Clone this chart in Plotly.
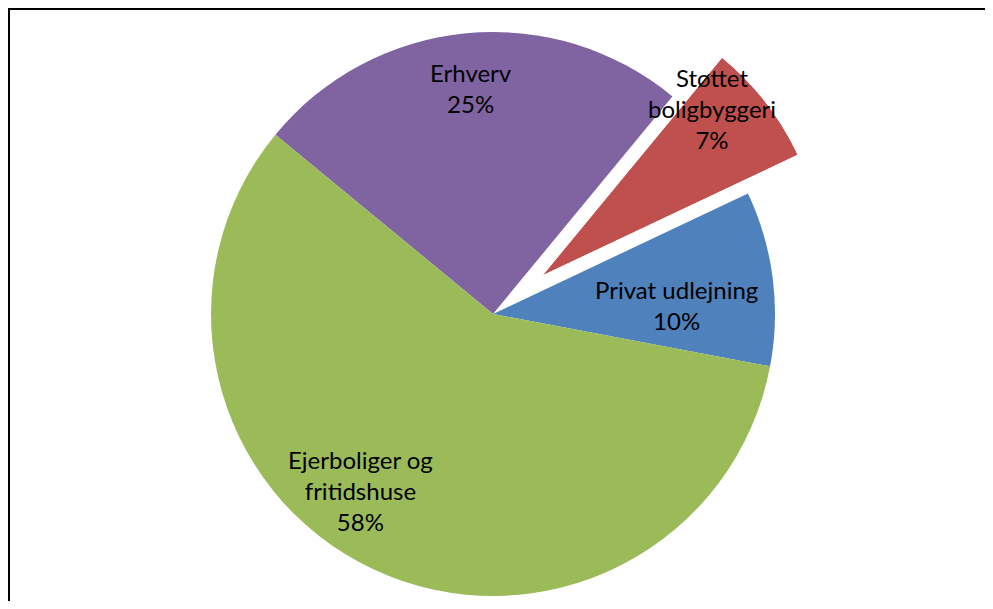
import math
import plotly.graph_objects as go

# slice data, in drawing order (clockwise from the top of "Erhverv")
labels = ["Erhverv", "Støttet boligbyggeri", "Privat udlejning", "Ejerboliger og fritidshuse"]
values = [25, 7, 10, 58]
colors = ["#8064A2", "#C0504D", "#4F81BD", "#9BBB59"]
label_text = ["Erhverv<br>25%", "Støttet<br>boligbyggeri<br>7%", "Privat udlejning<br>10%",
              "Ejerboliger og<br>fritidshuse<br>58%"]
pulled = "Støttet boligbyggeri"

W, H = 993, 609
BODY = 8                      # default page margin around the plot div
FW, FH = W - 2 * BODY, H - 2 * BODY
cx, cy, R = 493, 314, 282     # pie centre and radius (page px)
start_angle = 140.5           # math angle where the first slice starts
pull_px = 63                  # how far the exploded slice is moved out
label_pos = [(471, 88), (712, 108), (676, 305), (360, 490)]


def px(x):
    return (x - BODY) / FW


def py(y):
    return 1 - (y - BODY) / FH


fig = go.Figure()

# main pie, exploded slice left transparent (it is drawn on its own below)
pie_colors = ["rgba(0,0,0,0)" if lab == pulled else c for lab, c in zip(labels, colors)]
fig.add_trace(go.Pie(
    labels=labels,
    values=values,
    sort=False,
    direction="clockwise",
    rotation=90 - start_angle,
    marker=dict(colors=pie_colors, line=dict(width=0)),
    textinfo="none",
    hoverinfo="label+percent",
    showlegend=False,
    domain=dict(x=[px(cx - R), px(cx + R)], y=[py(cy + R), py(cy - R)]),
))

# angles of the exploded slice
total = sum(values)
i = labels.index(pulled)
a_hi = start_angle - 360 * sum(values[:i]) / total
a_lo = a_hi - 360 * values[i] / total
a_mid = (a_hi + a_lo) / 2
ax = cx + pull_px * math.cos(math.radians(a_mid))
ay = cy - pull_px * math.sin(math.radians(a_mid))

fig.add_trace(go.Barpolar(
    r=[1],
    theta=[a_mid],
    width=[a_hi - a_lo],
    marker=dict(color=colors[i], line=dict(width=0)),
    hoverinfo="skip",
    showlegend=False,
))

fig.update_layout(
    polar=dict(
        sector=[a_lo, a_hi],
        domain=dict(
            x=[px(ax), px(ax + R * math.cos(math.radians(a_lo)))],
            y=[py(ay), py(ay - R * math.sin(math.radians(a_hi)))],
        ),
        bgcolor="rgba(0,0,0,0)",
        radialaxis=dict(range=[0, 1], visible=False),
        angularaxis=dict(visible=False),
    )
)

for txt, (x, y) in zip(label_text, label_pos):
    fig.add_annotation(
        x=px(x), y=py(y), xref="paper", yref="paper",
        text=txt, showarrow=False, xanchor="center", yanchor="middle",
        font=dict(family="Lato", size=24, color="#000000"),
    )

# frame around the chart (left and top edges)
fig.add_shape(type="line", xref="paper", yref="paper", x0=0, x1=1, y0=1, y1=1,
              line=dict(color="black", width=4))
fig.add_shape(type="line", xref="paper", yref="paper", x0=0, x1=0, y0=1, y1=0,
              line=dict(color="black", width=4))

fig.update_layout(
    width=FW,
    height=FH,
    margin=dict(l=0, r=0, t=0, b=0),
    paper_bgcolor="white",
    plot_bgcolor="white",
)

fig.write_html("out.html")
